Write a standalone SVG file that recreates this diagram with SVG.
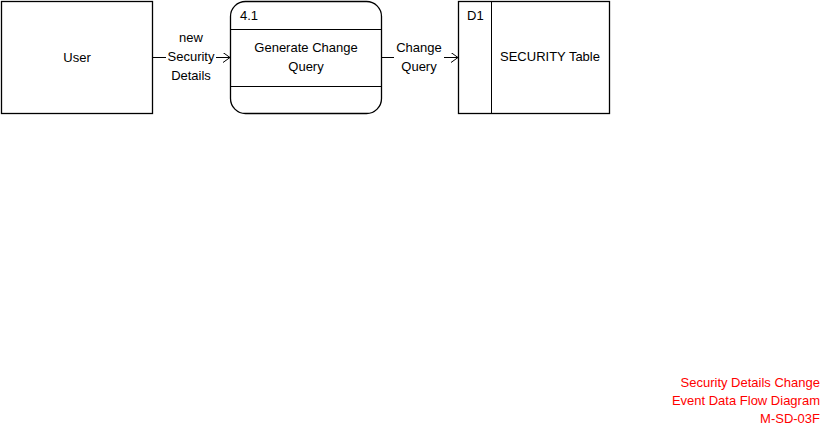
<svg xmlns="http://www.w3.org/2000/svg" width="833" height="437" viewBox="0 0 833 437">
<style>
.box{fill:#fff;stroke:#000;stroke-width:1.3}
.ln{stroke:#000;stroke-width:1;fill:none}
text{font-family:"Liberation Sans",Arial,sans-serif;font-size:13px;fill:#000}
.c{text-anchor:middle}
.r{text-anchor:end;fill:#f00}
</style>
<defs>
<marker id="arr" markerWidth="8" markerHeight="10" refX="7" refY="5" orient="auto" markerUnits="userSpaceOnUse">
<path d="M0,0 L7,5 L0,10" fill="none" stroke="#000" stroke-width="1"/>
</marker>
</defs>
<rect width="833" height="437" fill="#fff"/>
<g id="user">
<rect class="box" x="1.5" y="1.5" width="151" height="112"/>
<text class="c" x="77" y="62">User</text>
</g>
<g id="process-4.1">
<rect class="box" x="230.5" y="1.5" width="151" height="112" rx="15" ry="15"/>
<line class="ln" x1="230.5" y1="29.5" x2="381.5" y2="29.5"/>
<line class="ln" x1="230.5" y1="86.5" x2="381.5" y2="86.5"/>
<text x="240" y="20">4.1</text>
<text class="c" x="306" y="52">Generate Change</text>
<text class="c" x="306" y="71">Query</text>
</g>
<g id="store-D1">
<rect class="box" x="458.5" y="1.5" width="151" height="112"/>
<line class="ln" x1="491.5" y1="1.5" x2="491.5" y2="113.5"/>
<text x="467" y="20">D1</text>
<text class="c" x="550" y="61">SECURITY Table</text>
</g>
<g id="connectors">
<line class="ln" x1="152.5" y1="57.5" x2="230" y2="57.5" marker-end="url(#arr)"/>
<rect x="166" y="31" width="50" height="51" fill="#fff"/>
<text class="c" x="191" y="42">new</text>
<text class="c" x="191" y="61">Security</text>
<text class="c" x="191" y="80">Details</text>
<line class="ln" x1="381.5" y1="57.5" x2="458" y2="57.5" marker-end="url(#arr)"/>
<rect x="394" y="40" width="50" height="35" fill="#fff"/>
<text class="c" x="419" y="52">Change</text>
<text class="c" x="419" y="71">Query</text>
</g>
<g id="footer">
<text class="r" x="820" y="387">Security Details Change</text>
<text class="r" x="820" y="405">Event Data Flow Diagram</text>
<text class="r" x="820" y="423">M-SD-03F</text>
</g>
</svg>
